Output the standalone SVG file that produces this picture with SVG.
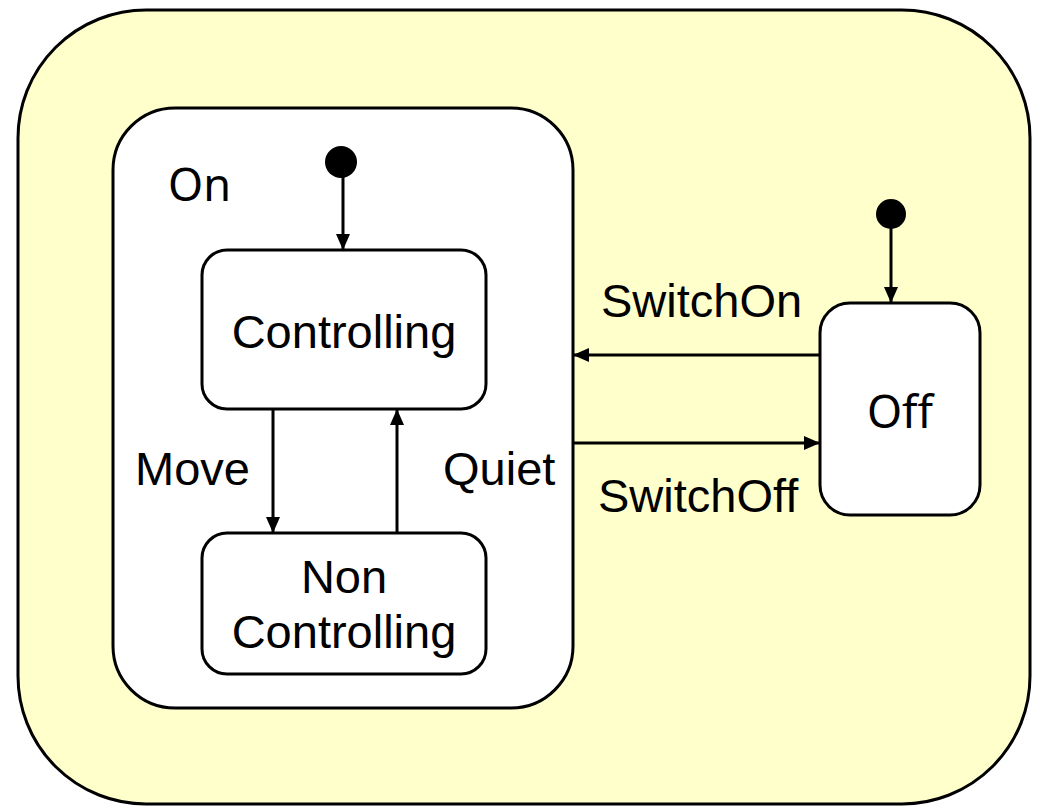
<svg xmlns="http://www.w3.org/2000/svg" width="1046" height="811" viewBox="0 0 1046 811">
<defs>
<style>
.st{stroke:#000;stroke-width:3;fill:#fff}
.ln{stroke:#000;stroke-width:3;fill:none}
.t{font-family:"Liberation Sans",Arial,sans-serif;font-size:47px;fill:#000}
.s{font-family:"Noto Sans","Open Sans",sans-serif;font-size:45px;fill:#000}
</style>
<marker id="ah" viewBox="0 0 16 14" refX="16" refY="7" markerWidth="16" markerHeight="14" markerUnits="userSpaceOnUse" orient="auto">
<path d="M0,0 L16,7 L0,14 Z" fill="#000"/>
</marker>
</defs>
<rect width="1046" height="811" fill="#fff"/>
<g id="outer">
<rect x="18" y="10" width="1012" height="794" rx="128" ry="128" fill="#FFFFCC" stroke="#000" stroke-width="3"/>
</g>
<g id="on">
<rect class="st" x="113" y="108" width="460" height="600" rx="62" ry="62"/>
<text class="s" x="168" y="201">On</text>
</g>
<g id="init-on">
<circle cx="341" cy="162" r="16" fill="#000"/>
</g>
<g id="controlling">
<rect class="st" x="202" y="250" width="284" height="159" rx="25" ry="25"/>
<text class="t" x="344" y="348" text-anchor="middle">Controlling</text>
</g>
<g id="noncontrolling">
<rect class="st" x="202" y="533" width="284" height="141" rx="25" ry="25"/>
<text class="t" x="344" y="593" text-anchor="middle">Non</text>
<text class="t" x="344" y="648" text-anchor="middle">Controlling</text>
</g>
<g id="init-off">
<circle cx="891" cy="214" r="15" fill="#000"/>
</g>
<g id="off">
<rect class="st" x="820" y="303" width="160" height="212" rx="30" ry="30"/>
<text class="s" x="900" y="428" text-anchor="middle">Off</text>
</g>
<g id="connectors">
<line class="ln" x1="343" y1="170" x2="343" y2="250" marker-end="url(#ah)"/>
<line class="ln" x1="273" y1="409" x2="273" y2="533" marker-end="url(#ah)"/>
<line class="ln" x1="397" y1="533" x2="397" y2="409" marker-end="url(#ah)"/>
<line class="ln" x1="891" y1="220" x2="891" y2="303" marker-end="url(#ah)"/>
<line class="ln" x1="820" y1="355" x2="573" y2="355" marker-end="url(#ah)"/>
<line class="ln" x1="573" y1="443" x2="820" y2="443" marker-end="url(#ah)"/>
<text class="t" x="135" y="485">Move</text>
<text class="t" x="443" y="485">Quiet</text>
<text class="t" x="601" y="317">SwitchOn</text>
<text class="t" x="598" y="512">SwitchOff</text>
</g>
</svg>
